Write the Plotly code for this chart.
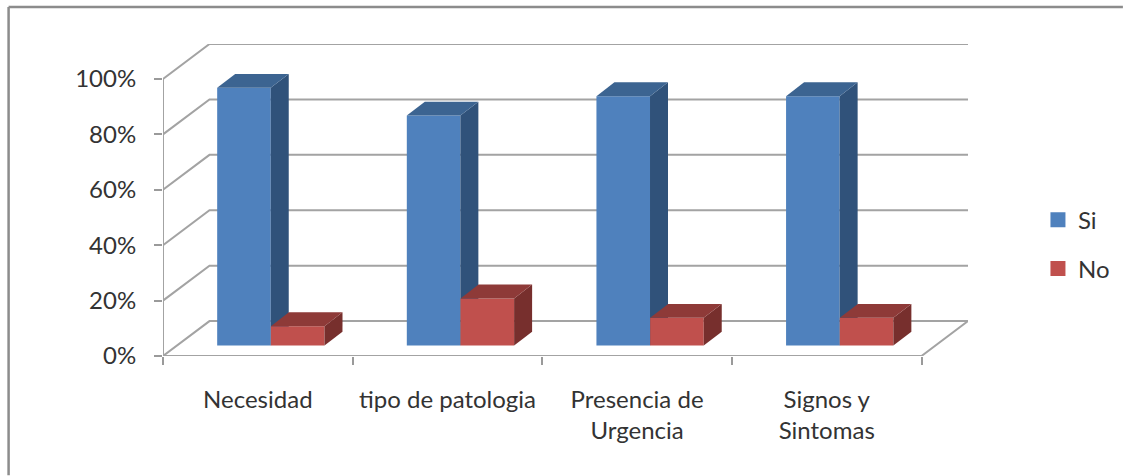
import plotly.graph_objects as go

categories = ["Necesidad", "tipo de patologia", "Presencia de<br>Urgencia", "Signos y<br>Sintomas"]
si_values = [93, 83, 90, 90]
no_values = [7, 17, 10, 10]
y_ticks = [0, 20, 40, 60, 80, 100]
y_tick_labels = ["0%", "20%", "40%", "60%", "80%", "100%"]

# Oblique projection of the Excel-style 3-D chart, in axis units
WALL_DX, WALL_DY = 0.2451, 12.6     # floor front edge -> back wall
BAR_X0, BAR_Y0 = 0.0738, 3.78       # front faces of the bars sit slightly behind the front edge
FACE_DX, FACE_DY = 0.0949, 5.0      # bar depth
BAR_W = 0.2825
SI_OFF = 0.2857
NO_OFF = SI_OFF + BAR_W + 0.0008

GRID = "#a3a3a3"
AXIS = "#9a9a9a"
FONT = dict(family="Lato, Carlito, sans-serif", size=24, color="#333333")
BLUE, BLUE_TOP, BLUE_SIDE = "#4f81bd", "#3c6491", "#30527a"
RED, RED_TOP, RED_SIDE = "#c0504d", "#8e3a38", "#772f2d"

L, R, T, B = 162.5, 968.0, 44.0, 356.5
W_PX, H_PX = 1123, 476
x_range = [0, len(categories) + WALL_DX]
y_range = [0, 100 + WALL_DY]

fig = go.Figure()

# Walls and floor lines
gx, gy = [], []
for v in y_ticks:
    gx += [0, WALL_DX, len(categories) + WALL_DX, None]
    gy += [v, v + WALL_DY, v + WALL_DY, None]
gx += [0, 0, None, 0, len(categories), len(categories) + WALL_DX]
gy += [0, 100, None, 0, 0, WALL_DY]
fig.add_trace(go.Scatter(x=gx, y=gy, mode="lines", line=dict(color=GRID, width=2),
                         cliponaxis=False, showlegend=False, hoverinfo="skip"))


def add_series(name, values, offset, front, top, side, axis_suffix):
    xa, ya = "x" + axis_suffix, "y" + axis_suffix
    for i, v in enumerate(values):
        x0 = i + offset + 0
        x1 = x0 + BAR_W
        y0, y1 = BAR_Y0, BAR_Y0 + v
        fig.add_trace(go.Scatter(
            x=[x1, x1 + FACE_DX, x1 + FACE_DX, x1, x1],
            y=[y1, y1 + FACE_DY, y0 + FACE_DY, y0, y1],
            fill="toself", fillcolor=side, mode="none", xaxis=xa, yaxis=ya,
            showlegend=False, hoverinfo="skip"))
        fig.add_trace(go.Scatter(
            x=[x0, x0 + FACE_DX, x1 + FACE_DX, x1, x0],
            y=[y1, y1 + FACE_DY, y1 + FACE_DY, y1, y1],
            fill="toself", fillcolor=top, mode="none", xaxis=xa, yaxis=ya,
            showlegend=False, hoverinfo="skip"))
    fig.add_trace(go.Bar(
        x=[i + offset + BAR_W / 2 for i in range(len(values))], y=values,
        base=[BAR_Y0] * len(values), width=BAR_W, name=name, marker=dict(color=front, line_width=0),
        xaxis=xa, yaxis=ya, showlegend=False))
    # legend swatch
    fig.add_trace(go.Scatter(
        x=[None], y=[None], mode="markers", name=name, legendgroup=name,
        marker=dict(symbol="square", size=15, color=front), xaxis=xa, yaxis=ya))


add_series("Si", si_values, SI_OFF, BLUE, BLUE_TOP, BLUE_SIDE, "2")
add_series("No", no_values, NO_OFF, RED, RED_TOP, RED_SIDE, "3")


def px_x(p):
    return (p - L) / (R - L)


def px_y(p):
    return (B - p) / (B - T)


frame = dict(color="#8c8c8c", width=2.5)
shapes = [
    dict(type="line", xref="paper", yref="paper", x0=px_x(8), x1=px_x(W_PX), y0=px_y(7), y1=px_y(7), line=frame),
    dict(type="line", xref="paper", yref="paper", x0=px_x(8), x1=px_x(8), y0=px_y(7), y1=px_y(H_PX), line=frame),
]

hidden = dict(visible=False, fixedrange=True)
fig.update_layout(
    width=W_PX, height=H_PX, autosize=False,
    margin=dict(l=L, r=W_PX - R, t=T, b=H_PX - B, pad=0, autoexpand=False),
    paper_bgcolor="white", plot_bgcolor="white",
    font=FONT, barmode="overlay", shapes=shapes,
    hovermode=False,
    xaxis=dict(range=x_range, tickmode="array",
               tickvals=[i + 0.5 for i in range(len(categories))], ticktext=categories,
               ticks="outside", ticklen=0, ticklabelstandoff=22, showgrid=False, zeroline=False, showline=False,
               minor=dict(tickmode="array", tickvals=list(range(len(categories) + 1)), ticks="outside",
                          ticklen=8, tickwidth=2, tickcolor=AXIS, showgrid=False),
               tickfont=FONT, fixedrange=True),
    yaxis=dict(range=y_range, tickmode="array", tickvals=y_ticks, ticktext=y_tick_labels,
               ticks="outside", ticklen=8, tickwidth=2, tickcolor=AXIS, ticklabelstandoff=13,
               showgrid=False, zeroline=False, showline=False, tickfont=FONT, fixedrange=True),
    xaxis2=dict(range=x_range, overlaying="x", **hidden),
    yaxis2=dict(range=y_range, overlaying="y", **hidden),
    xaxis3=dict(range=x_range, overlaying="x", **hidden),
    yaxis3=dict(range=y_range, overlaying="y", **hidden),
    legend=dict(x=px_x(1038), y=px_y(198), xanchor="left", yanchor="top", bgcolor="rgba(0,0,0,0)",
                tracegroupgap=14.5, font=FONT, itemclick=False, itemdoubleclick=False),
)

fig.write_html("out.html", config={"displayModeBar": False},
               post_script="document.body.style.margin='0';")
